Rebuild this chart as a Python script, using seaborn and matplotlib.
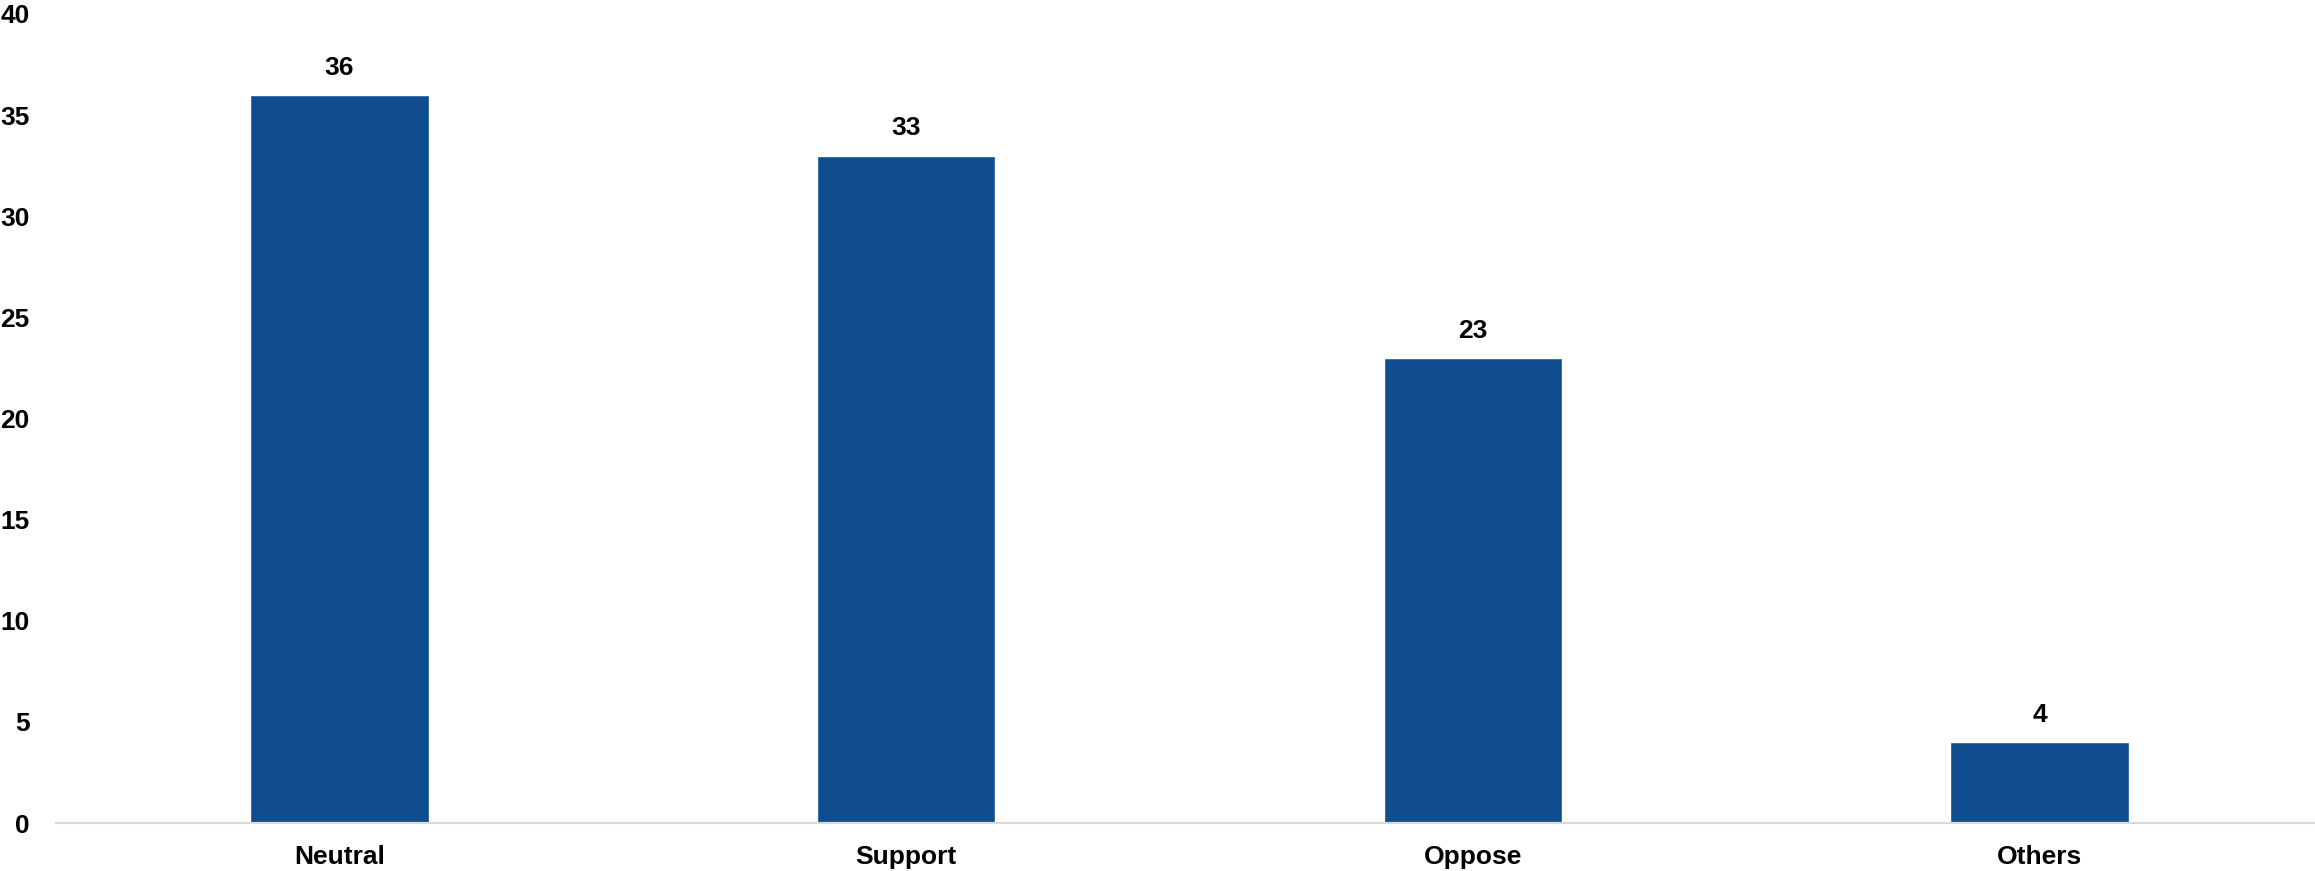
import matplotlib
matplotlib.use('Agg')
import matplotlib.pyplot as plt
import seaborn as sns
import pandas as pd

# values
categories = ['Neutral', 'Support', 'Oppose', 'Others']
counts = [36, 33, 23, 4]
y_ticks = [0, 5, 10, 15, 20, 25, 30, 35, 40]

bar_color = '#0F4D8F'

sns.set_theme(style='white')
plt.rcParams['font.family'] = ['Liberation Sans', 'DejaVu Sans']
plt.rcParams['font.weight'] = 'bold'

df = pd.DataFrame({'Stance': categories, 'Count': counts})

W, H, DPI = 2315, 871, 100
fig = plt.figure(figsize=(W / DPI, H / DPI), dpi=DPI)
# axes placed in pixel terms: left 56, bottom 48, top 14; runs a bit past the right edge
ax = fig.add_axes([56 / W, 48 / H, (2323 - 56) / W, (871 - 48 - 14) / H])

sns.barplot(data=df, x='Stance', y='Count', color=bar_color, saturation=1,
            width=0.315, ax=ax)

ax.set_ylim(0, 40)
ax.set_xlim(-0.5, 3.5)
ax.set_yticks(y_ticks)
ax.set_xlabel('')
ax.set_ylabel('')

for side in ['top', 'right', 'left']:
    ax.spines[side].set_visible(False)
ax.spines['bottom'].set_color('#D9D9D9')
ax.spines['bottom'].set_linewidth(1.6)

ax.tick_params(axis='y', length=0, pad=19, labelsize=19)
ax.tick_params(axis='x', length=0, pad=16, labelsize=19)
for lbl in ax.get_xticklabels() + ax.get_yticklabels():
    lbl.set_fontweight('bold')
    lbl.set_color('black')

ax.bar_label(ax.containers[0], labels=[str(v) for v in counts], padding=11,
             fontsize=19, fontweight='bold', color='black')

fig.savefig('out.png', dpi=DPI)
